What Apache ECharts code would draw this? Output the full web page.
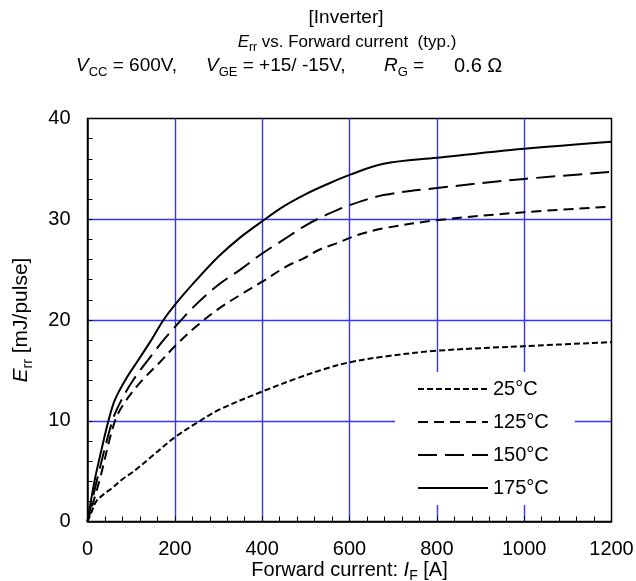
<!DOCTYPE html>
<html>
<head>
<meta charset="utf-8">
<script src="https://cdn.jsdelivr.net/npm/echarts@6/dist/echarts.min.js"></script>
<style>
html,body{margin:0;padding:0;background:#fff;}
#chart{width:636px;height:581px;}
</style>
</head>
<body>
<div id="chart"></div>
<script>
// ---- data ----
const seriesNames = ['25°C', '125°C', '150°C', '175°C'];

const x25  = [0, 8, 20, 40, 56, 80, 105, 151, 200, 258, 300, 400, 479, 540, 600, 678, 800, 1000, 1200];
const y25  = [0, 0.8, 2.0, 2.8, 3.3, 4.2, 4.95, 6.6, 8.36, 10, 11.07, 12.9, 14.2, 15.1, 15.8, 16.36, 16.95, 17.4, 17.8];

const x125 = [0, 27, 63, 88, 125, 170, 200, 250, 300, 350, 400, 455, 494, 532, 570, 616, 678, 800, 1000, 1200];
const y125 = [0, 4, 10, 12, 14, 16, 17.4, 19.4, 21.1, 22.5, 23.8, 25.3, 26.1, 27.0, 27.6, 28.4, 29.1, 29.9, 30.7, 31.25];

const x150 = [0, 21, 57, 77, 104, 138, 174, 200, 250, 300, 350, 400, 450, 500, 550, 600, 678, 800, 1000, 1200];
const y150 = [0, 4, 10, 12, 14, 16, 18, 19.3, 21.6, 23.5, 25.0, 26.6, 28.0, 29.4, 30.5, 31.4, 32.4, 33.1, 34.0, 34.7];

const x175 = [0, 16, 34, 48, 62, 86, 116, 146, 174, 200, 250, 300, 350, 400, 450, 500, 550, 600, 678, 800, 1000, 1200];
const y175 = [0, 4, 7.5, 10, 12, 14, 16, 18, 20, 21.5, 24.0, 26.3, 28.2, 29.8, 31.3, 32.5, 33.5, 34.4, 35.5, 36.1, 37.0, 37.7];

const xTicks = [0, 200, 400, 600, 800, 1000, 1200];
const yTicks = [0, 10, 20, 30, 40];

// ---- chart ----
const FONT = 'Liberation Sans, Arial, sans-serif';
function pairs(xs, ys) { return xs.map((x, i) => [x, ys[i]]); }

const dashes = [[6, 3], [10, 6], [19, 8], 'solid'];
const xsAll = [x25, x125, x150, x175];
const ysAll = [y25, y125, y150, y175];

function makeRich(size, subSize, lh) {
  return {
    i: { fontStyle: 'italic', fontSize: size, fontFamily: FONT, color: '#000', lineHeight: lh },
    t: { fontSize: size, fontFamily: FONT, color: '#000', lineHeight: lh },
    sub: { fontSize: subSize, fontFamily: FONT, color: '#000', lineHeight: Math.round(subSize * 1.1), verticalAlign: 'bottom' }
  };
}
const rich17 = makeRich(17, 12, 24);
const rich19 = makeRich(19, 13, 26);
const rich20 = makeRich(20, 14, 26);
const rich21 = makeRich(21, 14, 28);

const GRID_BLUE = '#3535ff';

const chart = echarts.init(document.getElementById('chart'), null, { renderer: 'canvas' });
chart.setOption({
  animation: false,
  backgroundColor: '#fff',
  textStyle: { fontFamily: FONT },
  graphic: [
    { type: 'text', x: 346, y: 18, style: { text: '[Inverter]', font: '19px ' + FONT, fill: '#000', align: 'center', verticalAlign: 'middle' } },
    { type: 'text', x: 347, y: 42, style: { text: '{i|E}{sub|rr}{t| vs. Forward current  (typ.)}', rich: rich17, align: 'center', verticalAlign: 'middle' } },
    { type: 'text', x: 76, y: 66, style: { text: '{i|V}{sub|CC}{t| = 600V,}', rich: rich19, align: 'left', verticalAlign: 'middle' } },
    { type: 'text', x: 206, y: 66, style: { text: '{i|V}{sub|GE}{t| = +15/ -15V,}', rich: rich19, align: 'left', verticalAlign: 'middle' } },
    { type: 'text', x: 384, y: 66, style: { text: '{i|R}{sub|G}{t| =}', rich: rich19, align: 'left', verticalAlign: 'middle' } },
    { type: 'text', x: 454, y: 66, style: { text: '{t|0.6 Ω}', rich: rich20, align: 'left', verticalAlign: 'middle' } }
  ],
  grid: {
    left: 87.5, right: 24.5, top: 118.5, bottom: 59.5,
    outerBoundsMode: 'none',
    containLabel: false,
    show: true, borderColor: '#000', borderWidth: 1.5, backgroundColor: 'transparent'
  },
  legend: {
    orient: 'vertical',
    left: 395, top: 372,
    padding: [7, 26, 7, 22],
    backgroundColor: '#fff',
    itemWidth: 70, itemHeight: 14, itemGap: 13,
    itemStyle: { opacity: 0 },
    textStyle: { fontSize: 20, color: '#000', fontFamily: FONT },
    data: seriesNames
  },
  xAxis: {
    type: 'value', min: xTicks[0], max: xTicks[xTicks.length - 1], interval: 200,
    name: '{t|Forward current: }{i|I}{sub|F}{t| [A]}',
    nameLocation: 'middle', nameGap: 36, nameMoveOverlap: false,
    nameTextStyle: { rich: rich20 },
    axisLine: { show: true, lineStyle: { color: '#000', width: 1.5 } },
    axisTick: { show: true, inside: true, length: 5, lineStyle: { color: '#000', width: 1 } },
    minorTick: { show: true, splitNumber: 5, length: 5, lineStyle: { color: '#000', width: 1 } },
    axisLabel: { fontSize: 20, color: '#000', fontFamily: FONT, margin: 18, formatter: v => String(v) },
    splitLine: { show: true, showMinLine: false, showMaxLine: false, lineStyle: { color: GRID_BLUE, width: 1.4 } }
  },
  yAxis: {
    type: 'value', min: yTicks[0], max: yTicks[yTicks.length - 1], interval: 10,
    name: '{i|E}{sub|rr}{t| [mJ/pulse]}',
    nameLocation: 'middle', nameGap: 52, nameRotate: 90, nameMoveOverlap: false,
    nameTextStyle: { rich: rich21 },
    axisLine: { show: true, lineStyle: { color: '#000', width: 1.5 } },
    axisTick: { show: true, inside: true, length: 5, lineStyle: { color: '#000', width: 1 } },
    minorTick: { show: true, splitNumber: 5, length: 5, lineStyle: { color: '#000', width: 1 } },
    axisLabel: { fontSize: 20, color: '#000', fontFamily: FONT, margin: 17, formatter: v => String(v) },
    splitLine: { show: true, showMinLine: false, showMaxLine: false, lineStyle: { color: GRID_BLUE, width: 1.4 } }
  },
  series: seriesNames.map((name, k) => ({
    name: name,
    type: 'line',
    data: pairs(xsAll[k], ysAll[k]),
    smooth: 0.35,
    symbol: 'none',
    lineStyle: { color: '#000', width: 2, type: dashes[k] },
    itemStyle: { color: '#000' },
    z: 3
  }))
});
</script>
</body>
</html>
